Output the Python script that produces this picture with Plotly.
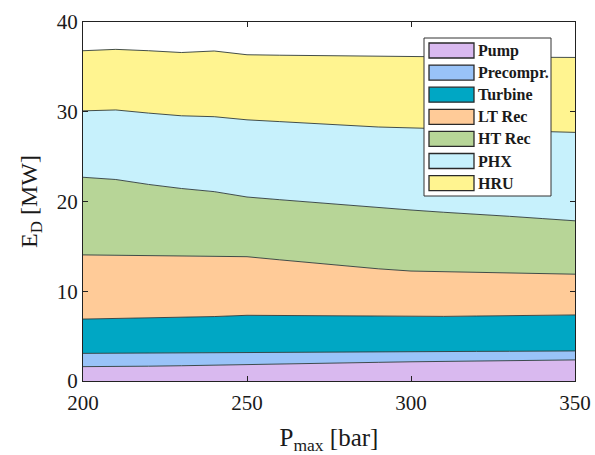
import plotly.graph_objects as go

# Maximum cycle pressure [bar]
p_max = [200, 210, 220, 230, 240, 250, 260, 270, 280, 290, 300, 310, 320, 330, 340, 350]

# Exergy destruction per component [MW]
pump = [1.60, 1.60, 1.65, 1.70, 1.75, 1.82, 1.88, 1.94, 2.00, 2.08, 2.14, 2.18, 2.22, 2.27, 2.31, 2.35]
precompr = [1.48, 1.50, 1.48, 1.47, 1.45, 1.42, 1.37, 1.31, 1.26, 1.18, 1.13, 1.10, 1.08, 1.04, 1.02, 1.00]
turbine = [3.82, 3.85, 3.89, 3.93, 3.98, 4.08, 4.05, 4.01, 3.96, 3.92, 3.90, 3.92, 3.94, 3.97, 3.99, 4.01]
lt_rec = [7.15, 7.05, 6.93, 6.80, 6.69, 6.53, 6.20, 5.89, 5.63, 5.32, 5.08, 4.97, 4.86, 4.74, 4.63, 4.54]
ht_rec = [8.65, 8.45, 7.95, 7.55, 7.23, 6.65, 6.70, 6.75, 6.75, 6.80, 6.80, 6.63, 6.50, 6.33, 6.15, 5.95]
phx = [7.40, 7.75, 7.95, 8.10, 8.35, 8.60, 8.70, 8.80, 8.90, 9.00, 9.15, 9.30, 9.40, 9.55, 9.70, 9.85]
hru = [6.70, 6.75, 6.95, 7.05, 7.32, 7.25, 7.40, 7.55, 7.70, 7.87, 7.95, 8.02, 8.10, 8.20, 8.28, 8.35]

names = ["Pump", "Precompr.", "Turbine", "LT Rec", "HT Rec", "PHX", "HRU"]
series = [pump, precompr, turbine, lt_rec, ht_rec, phx, hru]
colors = ["#D9B9EF", "#99C3F8", "#00A7C4", "#FFCB98", "#B7D597", "#C7F1FC", "#FFF490"]

serif = "Liberation Serif"
ink = "#1a1a1a"

W, H = 595, 455
L, R, T, B = 83, 20, 22, 74
PW, PH = W - L - R, H - T - B


def px(x):
    return (x - L) / PW


def py(y):
    return (H - B - y) / PH


fig = go.Figure()
for name, vals, col in zip(names, series, colors):
    fig.add_trace(go.Scatter(
        x=p_max, y=vals, name=name, mode="lines",
        stackgroup="ed", fillcolor=col, showlegend=False,
        line=dict(color="#2f3b3b", width=0.9),
    ))

# Boxed key with large swatches, drawn in paper coordinates
shapes = [dict(type="rect", xref="paper", yref="paper",
               x0=px(424), x1=px(551), y0=py(196), y1=py(38),
               fillcolor="white", line=dict(color="#333333", width=1), layer="above")]
annotations = []
for i, (name, col) in enumerate(zip(names, colors)):
    cy = 50.5 + i * 22.1
    shapes.append(dict(type="rect", xref="paper", yref="paper",
                       x0=px(429), x1=px(474), y0=py(cy + 7.5), y1=py(cy - 7.5),
                       fillcolor=col, line=dict(color="#2a2a2a", width=1.3), layer="above"))
    annotations.append(dict(xref="paper", yref="paper", x=px(476), y=py(cy),
                            xanchor="left", yanchor="middle", showarrow=False,
                            text="<b>%s</b>" % name,
                            font=dict(family=serif, size=16, color=ink)))

fig.update_layout(
    width=W, height=H,
    margin=dict(l=L, r=R, t=T, b=B),
    paper_bgcolor="white", plot_bgcolor="white",
    font=dict(family=serif, color=ink),
    showlegend=False,
    shapes=shapes, annotations=annotations,
    xaxis=dict(
        range=[200, 350], tickvals=[200, 250, 300, 350], automargin=False,
        ticks="inside", ticklen=5, tickcolor="#222", mirror="ticks",
        showline=True, linecolor="#222", linewidth=1, showgrid=False, zeroline=False,
        tickfont=dict(family=serif, size=21, color=ink), ticklabelstandoff=3,
        title=dict(text="P<sub>max</sub> [bar]", font=dict(family=serif, size=25, color=ink), standoff=16),
    ),
    yaxis=dict(
        range=[0, 40], tickvals=[0, 10, 20, 30, 40], automargin=False,
        ticks="inside", ticklen=5, tickcolor="#222", mirror="ticks",
        showline=True, linecolor="#222", linewidth=1, showgrid=False, zeroline=False,
        tickfont=dict(family=serif, size=21, color=ink),
        title=dict(text="E<sub>D</sub> [MW]", font=dict(family=serif, size=24, color=ink), standoff=12),
    ),
)

fig.write_html("out.html")
